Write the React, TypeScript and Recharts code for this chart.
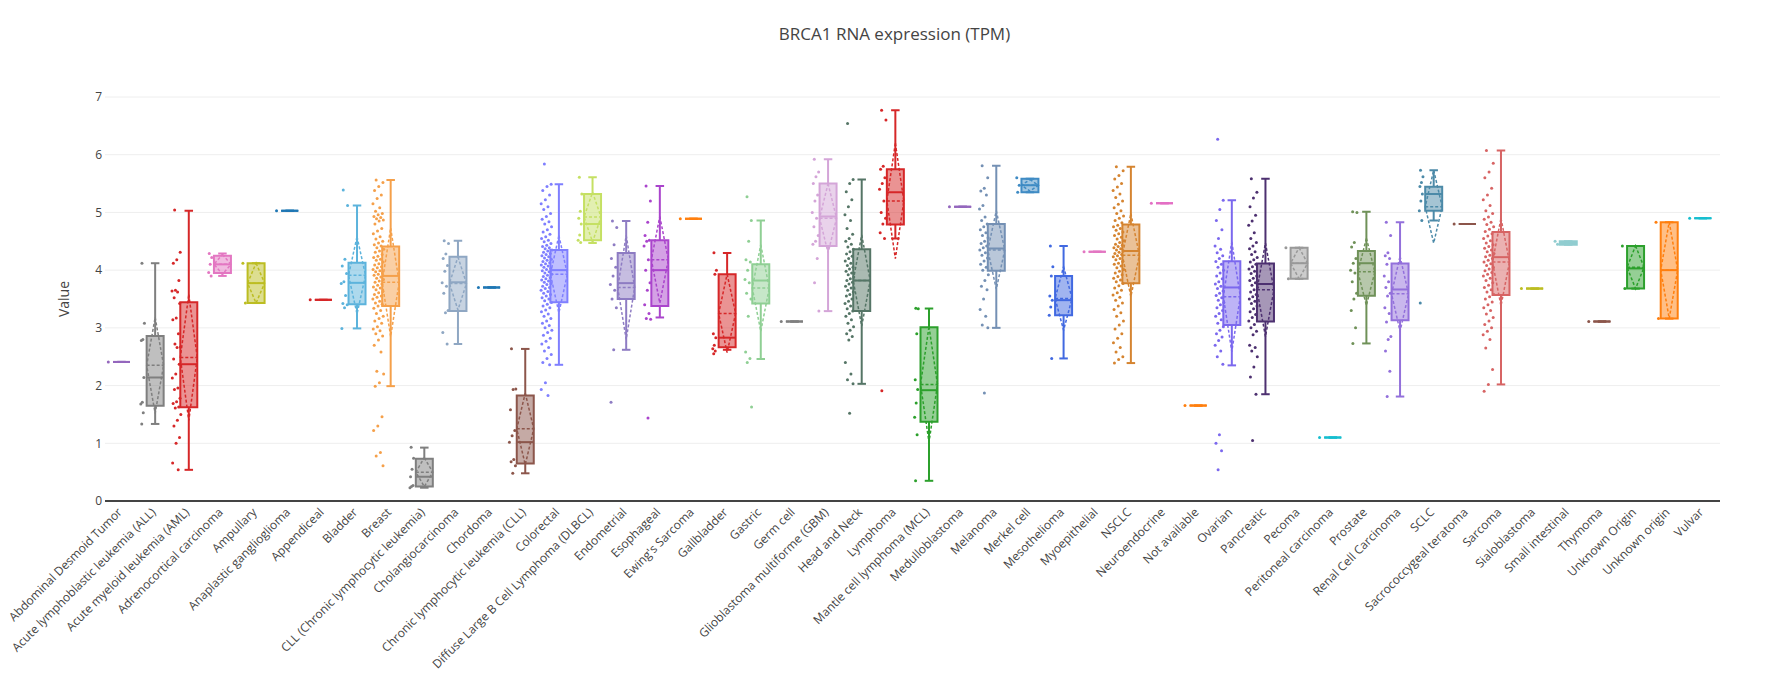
import React from 'react';
import { ComposedChart, Bar, Scatter, XAxis, YAxis, CartesianGrid, Label } from 'recharts';

const categories = [
  'Abdominal Desmoid Tumor', 'Acute lymphoblastic leukemia (ALL)', 'Acute myeloid leukemia (AML)',
  'Adrenocortical carcinoma', 'Ampullary', 'Anaplastic ganglioglioma', 'Appendiceal', 'Bladder', 'Breast',
  'CLL (Chronic lymphocytic leukemia)', 'Cholangiocarcinoma', 'Chordoma', 'Chronic lymphocytic leukemia (CLL)',
  'Colorectal', 'Diffuse Large B Cell Lymphoma (DLBCL)', 'Endometrial', 'Esophageal', "Ewing's Sarcoma",
  'Gallbladder', 'Gastric', 'Germ cell', 'Glioblastoma multiforme (GBM)', 'Head and Neck', 'Lymphoma',
  'Mantle cell lymphoma (MCL)', 'Medulloblastoma', 'Melanoma', 'Merkel cell', 'Mesothelioma', 'Myoepithelial',
  'NSCLC', 'Neuroendocrine', 'Not available', 'Ovarian', 'Pancreatic', 'Pecoma', 'Peritoneal carcinoma',
  'Prostate', 'Renal Cell Carcinoma', 'SCLC', 'Sacrococcygeal teratoma', 'Sarcoma', 'Sialoblastoma',
  'Small intestinal', 'Thymoma', 'Unknown Origin', 'Unknown origin', 'Vulvar',
];

// box statistics, one entry per category
const whiskerLow = [2.41, 1.335, 0.54, 3.9, 3.43, 5.03, 3.485, 2.99, 1.99, 0.23, 2.72, 3.7, 0.48, 2.36, 4.47, 2.62, 3.18, 4.89, 2.62, 2.46, 3.11, 3.29, 2.03, 4.55, 0.35, 5.1, 3.0, 5.35, 2.47, 4.32, 2.39, 5.16, 1.653, 2.35, 1.85, 3.85, 1.1, 2.73, 1.81, 4.86, 4.8, 2.02, 3.68, 4.44, 3.11, 3.68, 3.16, 4.9];
const quart1 = [2.41, 1.65, 1.625, 3.95, 3.43, 5.03, 3.485, 3.41, 3.38, 0.25, 3.29, 3.7, 0.65, 3.445, 4.52, 3.5, 3.38, 4.89, 2.665, 3.42, 3.11, 4.42, 3.29, 4.79, 1.375, 5.1, 3.99, 5.35, 3.22, 4.32, 3.775, 5.16, 1.653, 3.05, 3.11, 3.85, 1.1, 3.555, 3.13, 5.03, 4.8, 3.57, 3.68, 4.44, 3.11, 3.68, 3.16, 4.9];
const medians = [2.41, 2.14, 2.37, 4.1, 3.775, 5.03, 3.485, 3.78, 3.9, 0.42, 3.79, 3.7, 1.02, 4.0, 4.8, 3.775, 4.0, 4.89, 2.83, 3.82, 3.11, 4.93, 3.82, 5.35, 1.92, 5.1, 4.375, 5.47, 3.48, 4.32, 4.33, 5.16, 1.653, 3.7, 3.76, 4.12, 1.1, 4.12, 3.665, 5.32, 4.8, 4.225, 3.68, 4.47, 3.11, 4.03, 4.0, 4.9];
const quart3 = [2.41, 2.86, 3.445, 4.25, 4.12, 5.03, 3.485, 4.13, 4.41, 0.734, 4.23, 3.7, 1.83, 4.35, 5.32, 4.295, 4.52, 4.89, 3.93, 4.1, 3.11, 5.5, 4.36, 5.75, 3.01, 5.1, 4.8, 5.585, 3.9, 4.32, 4.79, 5.16, 1.653, 4.155, 4.115, 4.39, 1.1, 4.33, 4.115, 5.445, 4.8, 4.66, 3.68, 4.5, 3.11, 4.42, 4.83, 4.9];
const whiskerHigh = [2.41, 4.12, 5.03, 4.29, 4.12, 5.03, 3.485, 5.12, 5.56, 0.925, 4.51, 3.7, 2.635, 5.49, 5.61, 4.85, 5.46, 4.89, 4.295, 4.86, 3.11, 5.92, 5.57, 6.77, 3.335, 5.1, 5.81, 5.585, 4.42, 4.32, 5.79, 5.16, 1.653, 5.21, 5.585, 4.39, 1.1, 5.01, 4.83, 5.73, 4.8, 6.075, 3.68, 4.5, 3.11, 4.42, 4.83, 4.9];
const means = [2.41, 2.35, 2.485, 4.1, 3.775, 5.03, 3.485, 3.91, 3.79, 0.5, 3.77, 3.7, 1.25, 3.93, 4.92, 3.7, 4.18, 4.89, 3.25, 3.69, 3.11, 4.9, 3.82, 5.2, 2.02, 5.1, 4.35, 5.47, 3.51, 4.32, 4.26, 5.16, 1.653, 3.54, 3.66, 4.12, 1.1, 3.97, 3.59, 5.1, 4.8, 4.14, 3.68, 4.47, 3.11, 4.05, 4.0, 4.9];
const stdDevs = [0, 0.83, 1.09, 0.17, 0.345, 0, 0, 0.67, 0.94, 0.25, 0.46, 0, 0.62, 0.67, 0.43, 0.9, 0.75, 0, 0.68, 0.75, 0, 0.6, 0.79, 1.0, 1.0, 0, 0.68, 0.1, 0.55, 0, 0.72, 0, 0, 0.95, 0.81, 0.27, 0, 0.58, 0.65, 0.63, 0, 0.76, 0, 0.03, 0, 0.37, 0.835, 0];

// individual samples shown beside each box
const samples: number[][] = [
  [2.41],
  [4.12, 3.08, 2.8, 2.78, 2.14, 1.71, 1.68, 1.53, 1.335],
  [5.04, 4.31, 4.18, 4.12, 3.82, 3.65, 3.64, 3.62, 3.52, 3.42, 3.17, 3.14, 2.9, 2.72, 2.67, 2.66, 2.46, 2.37, 2.2, 2.13, 1.96, 1.93, 1.78, 1.72, 1.69, 1.63, 1.61, 1.5, 1.4, 1.3, 1.1, 1.0, 0.66, 0.54],
  [4.29, 4.22, 4.1, 3.96, 3.9],
  [4.12, 3.43],
  [5.03],
  [3.485],
  [5.39, 5.12, 4.19, 4.07, 3.94, 3.8, 3.77, 3.56, 3.42, 3.4, 3.35, 2.99],
  [5.56, 5.52, 5.45, 5.38, 5.3, 5.24, 5.15, 5.08, 5.02, 4.98, 4.96, 4.93, 4.91, 4.89, 4.87, 4.85, 4.8, 4.72, 4.68, 4.63, 4.58, 4.54, 4.5, 4.47, 4.44, 4.42, 4.39, 4.36, 4.33, 4.31, 4.27, 4.24, 4.22, 4.19, 4.17, 4.14, 4.11, 4.09, 4.06, 4.04, 4.01, 3.99, 3.97, 3.95, 3.93, 3.91, 3.88, 3.86, 3.84, 3.81, 3.79, 3.76, 3.74, 3.71, 3.69, 3.66, 3.63, 3.61, 3.58, 3.55, 3.53, 3.5, 3.46, 3.43, 3.41, 3.38, 3.34, 3.3, 3.25, 3.2, 3.16, 3.12, 3.08, 3.02, 2.98, 2.95, 2.9, 2.86, 2.79, 2.7, 2.58, 2.25, 2.2, 2.05, 1.99, 1.46, 1.3, 1.22, 0.84, 0.78, 0.61],
  [0.93, 0.74, 0.55, 0.42, 0.27, 0.25, 0.23],
  [4.51, 4.46, 4.28, 4.2, 4.08, 3.98, 3.78, 3.72, 3.6, 3.3, 3.26, 2.92, 2.72],
  [3.7],
  [2.64, 1.94, 1.93, 1.58, 1.22, 1.13, 1.02, 0.72, 0.68, 0.61, 0.48],
  [5.84, 5.49, 5.45, 5.38, 5.3, 5.22, 5.15, 5.1, 5.05, 4.98, 4.93, 4.88, 4.84, 4.8, 4.75, 4.7, 4.66, 4.62, 4.58, 4.55, 4.52, 4.49, 4.46, 4.43, 4.41, 4.39, 4.37, 4.35, 4.33, 4.31, 4.29, 4.27, 4.25, 4.23, 4.21, 4.19, 4.17, 4.15, 4.13, 4.11, 4.09, 4.07, 4.05, 4.03, 4.01, 3.99, 3.97, 3.95, 3.93, 3.91, 3.89, 3.87, 3.85, 3.83, 3.81, 3.79, 3.77, 3.75, 3.72, 3.7, 3.68, 3.65, 3.63, 3.6, 3.58, 3.55, 3.52, 3.5, 3.47, 3.44, 3.41, 3.38, 3.35, 3.31, 3.28, 3.24, 3.2, 3.16, 3.12, 3.08, 3.04, 3.0, 2.96, 2.92, 2.87, 2.82, 2.77, 2.72, 2.66, 2.6, 2.54, 2.47, 2.4, 2.36, 2.05, 1.93, 1.83],
  [5.61, 5.32, 5.02, 4.9, 4.8, 4.61, 4.52, 4.48],
  [4.85, 4.74, 4.44, 4.2, 4.05, 3.9, 3.75, 3.65, 3.5, 3.35, 2.62, 1.71],
  [5.46, 5.2, 4.83, 4.6, 4.52, 4.5, 4.42, 4.18, 4.0, 3.78, 3.65, 3.4, 3.25, 3.16, 3.15, 1.44],
  [4.89],
  [4.3, 4.0, 3.93, 2.9, 2.83, 2.7, 2.64, 2.6, 2.55],
  [5.27, 4.86, 4.5, 4.18, 4.14, 4.0, 3.84, 3.78, 3.6, 3.5, 3.2, 2.58, 2.47, 2.4, 1.63],
  [3.11],
  [5.92, 5.7, 5.62, 5.5, 5.3, 5.2, 5.0, 4.9, 4.75, 4.6, 4.5, 4.45, 4.2, 3.78, 3.29],
  [6.54, 5.57, 5.5, 5.36, 5.22, 5.1, 4.96, 4.86, 4.72, 4.62, 4.55, 4.5, 4.45, 4.4, 4.36, 4.32, 4.28, 4.24, 4.2, 4.16, 4.12, 4.08, 4.05, 4.02, 3.98, 3.95, 3.92, 3.88, 3.85, 3.82, 3.79, 3.76, 3.72, 3.69, 3.65, 3.62, 3.58, 3.55, 3.5, 3.46, 3.42, 3.38, 3.33, 3.29, 3.25, 3.2, 3.14, 3.08, 3.02, 2.96, 2.9, 2.85, 2.79, 2.4, 2.2, 2.1, 2.03, 1.52],
  [6.77, 6.6, 5.8, 5.75, 5.6, 5.5, 5.4, 5.2, 5.0, 4.9, 4.8, 4.65, 4.55, 1.91],
  [3.34, 3.33, 2.9, 2.1, 1.93, 1.7, 1.45, 1.15, 0.35],
  [5.1],
  [5.81, 5.6, 5.42, 5.37, 5.3, 5.12, 5.06, 4.92, 4.86, 4.8, 4.75, 4.7, 4.65, 4.6, 4.56, 4.5, 4.46, 4.42, 4.39, 4.35, 4.3, 4.26, 4.21, 4.16, 4.1, 4.05, 4.0, 3.92, 3.82, 3.72, 3.66, 3.5, 3.32, 3.2, 3.05, 3.0, 1.87],
  [5.6, 5.47, 5.35],
  [4.42, 4.06, 3.9, 3.55, 3.48, 3.36, 3.22, 2.47],
  [4.32],
  [5.79, 5.72, 5.64, 5.58, 5.5, 5.44, 5.38, 5.32, 5.26, 5.2, 5.14, 5.08, 5.03, 4.98, 4.94, 4.9, 4.86, 4.82, 4.78, 4.75, 4.72, 4.69, 4.66, 4.63, 4.6, 4.57, 4.54, 4.51, 4.48, 4.45, 4.43, 4.41, 4.39, 4.37, 4.35, 4.33, 4.31, 4.29, 4.27, 4.25, 4.23, 4.2, 4.18, 4.15, 4.12, 4.1, 4.07, 4.04, 4.01, 3.98, 3.95, 3.92, 3.89, 3.86, 3.83, 3.8, 3.77, 3.73, 3.69, 3.65, 3.61, 3.57, 3.53, 3.48, 3.43, 3.38, 3.32, 3.26, 3.2, 3.12, 3.05, 2.98, 2.9, 2.82, 2.74, 2.66, 2.58, 2.5, 2.45, 2.39],
  [5.16],
  [1.653],
  [6.27, 5.21, 5.05, 4.86, 4.7, 4.55, 4.42, 4.36, 4.3, 4.25, 4.2, 4.15, 4.1, 4.05, 4.0, 3.95, 3.9, 3.85, 3.8, 3.76, 3.72, 3.68, 3.64, 3.6, 3.56, 3.52, 3.48, 3.44, 3.4, 3.35, 3.3, 3.25, 3.2, 3.14, 3.08, 3.02, 2.96, 2.9, 2.84, 2.78, 2.7, 2.6, 2.5, 2.37, 1.15, 1.0, 0.87, 0.54],
  [5.585, 5.35, 5.25, 5.1, 4.95, 4.85, 4.78, 4.65, 4.55, 4.48, 4.42, 4.37, 4.32, 4.27, 4.22, 4.18, 4.14, 4.1, 4.06, 4.02, 3.98, 3.94, 3.9, 3.86, 3.82, 3.78, 3.74, 3.7, 3.66, 3.62, 3.58, 3.54, 3.5, 3.46, 3.42, 3.38, 3.33, 3.28, 3.23, 3.18, 3.12, 3.06, 3.0, 2.94, 2.88, 2.7, 2.66, 2.6, 2.5, 2.32, 2.15, 1.85, 1.05],
  [4.39, 3.85],
  [1.1],
  [5.01, 5.0, 4.48, 4.4, 4.2, 4.12, 4.0, 3.95, 3.8, 3.6, 3.5, 3.3, 3.0, 2.73],
  [4.83, 4.6, 4.3, 4.25, 4.2, 4.1, 3.9, 3.8, 3.7, 3.6, 3.55, 3.35, 3.25, 3.1, 2.85, 2.8, 2.6, 2.25, 1.81],
  [5.73, 5.62, 5.52, 5.45, 5.32, 5.2, 5.03, 4.86, 3.43],
  [4.8],
  [6.075, 5.85, 5.7, 5.6, 5.42, 5.3, 5.22, 5.12, 5.03, 4.98, 4.92, 4.88, 4.83, 4.79, 4.75, 4.71, 4.67, 4.63, 4.59, 4.55, 4.51, 4.47, 4.44, 4.41, 4.38, 4.35, 4.32, 4.29, 4.26, 4.23, 4.2, 4.17, 4.14, 4.11, 4.08, 4.05, 4.02, 3.99, 3.96, 3.93, 3.9, 3.86, 3.82, 3.78, 3.74, 3.7, 3.66, 3.62, 3.58, 3.54, 3.5, 3.45, 3.4, 3.35, 3.3, 3.24, 3.18, 3.12, 3.06, 3.0, 2.94, 2.88, 2.8, 2.65, 2.28, 2.02, 1.9],
  [3.68],
  [4.5, 4.45],
  [3.11],
  [4.42, 3.68],
  [4.83, 3.16],
  [4.9],
];

const yTicks = [0, 1, 2, 3, 4, 5, 6, 7];

const colors = [
  '#9467bd', '#7f7f7f', '#d62728', '#e377c2', '#bcbd22', '#1f77b4', '#d62728', '#5cb3dc', '#f5a04a',
  '#7f7f7f', '#8fa7c3', '#1f77b4', '#8c564b', '#7f7fff', '#c5e063', '#8e7cc3', '#aa44cc', '#ff7f0e',
  '#d62728', '#8fcf94', '#7f7f7f', '#d4a5d8', '#557566', '#d62728', '#2ca02c', '#9467bd', '#7490b4',
  '#3f8bc4', '#4169e1', '#e377c2', '#d58430', '#e36fc4', '#ff7f0e', '#7b68ee', '#4d3070', '#999999',
  '#17becf', '#6f9158', '#9370db', '#4c8aa8', '#8c564b', '#d76464', '#bcbd22', '#91cdd0', '#8c564b',
  '#2ca02c', '#ff7f0e', '#17becf',
];

const FONT = '"Open Sans", sans-serif';

const boxRows = categories.map((name, i) => ({
  name,
  idx: i,
  lo: whiskerLow[i],
  q1: quart1[i],
  med: medians[i],
  q3: quart3[i],
  hi: whiskerHigh[i],
  mean: means[i],
  sd: stdDevs[i],
}));

const pointRows = samples.flatMap((vals, c) => vals.map((v, k) => ({ c, v, k, n: vals.length })));

function BoxShape(props: any) {
  const { x, y, width, height, payload } = props;
  const k = height / payload.hi;
  const base = y + height;
  const py = (v: number) => base - v * k;
  const cx = x + width / 2;
  const hw = width / 2;
  const col = colors[payload.idx];
  const top = py(payload.q3);
  const bot = py(payload.q1);
  const my = py(payload.mean);
  return (
    <g>
      <line x1={cx} x2={cx} y1={top} y2={py(payload.hi)} stroke={col} strokeWidth={2} />
      <line x1={cx} x2={cx} y1={bot} y2={py(payload.lo)} stroke={col} strokeWidth={2} />
      <line x1={cx - hw / 2} x2={cx + hw / 2} y1={py(payload.hi)} y2={py(payload.hi)} stroke={col} strokeWidth={2} />
      <line x1={cx - hw / 2} x2={cx + hw / 2} y1={py(payload.lo)} y2={py(payload.lo)} stroke={col} strokeWidth={2} />
      <path
        d={`M${cx - hw},${top}H${cx + hw}V${bot}H${cx - hw}Z`}
        fill={col}
        fillOpacity={0.5}
        stroke={col}
        strokeWidth={2}
      />
      <line x1={cx - hw} x2={cx + hw} y1={py(payload.med)} y2={py(payload.med)} stroke={col} strokeWidth={2} />
      <line x1={cx - hw} x2={cx + hw} y1={my} y2={my} stroke={col} strokeWidth={1.5} strokeDasharray="3 2" />
      {payload.sd > 0 && (
        <path
          d={`M${cx},${py(payload.mean + payload.sd)}L${cx + hw},${my}L${cx},${py(payload.mean - payload.sd)}L${cx - hw},${my}Z`}
          fill="none"
          stroke={col}
          strokeWidth={1.5}
          strokeDasharray="3 2"
        />
      )}
    </g>
  );
}

function SampleDot(props: any) {
  const { cx, cy, payload } = props;
  if (cx == null || cy == null) return null;
  const amp = payload.n >= 60 ? 5.5 : payload.n >= 30 ? 4.5 : payload.n >= 10 ? 3.5 : 2;
  const f = (payload.k * 0.618034 + 0.31) % 1;
  const dx = -12.75 + (f - 0.5) * 2 * amp;
  return <circle cx={cx + dx} cy={cy} r={1.5} fill={colors[payload.c]} />;
}

function CategoryTick(props: any) {
  const { x, y, payload } = props;
  const ax = x + 1;
  const ay = y + 12;
  return (
    <text
      x={ax}
      y={ay}
      transform={`rotate(-45 ${ax} ${ay})`}
      textAnchor="end"
      fontSize={12}
      fill="#444"
      fontFamily={FONT}
    >
      {payload.value}
    </text>
  );
}

export default function App() {
  return (
    <div style={{ position: 'relative', width: 1789, height: 684, background: '#fff' }}>
      <style>{'body{margin:0}'}</style>
      <div
        style={{
          position: 'absolute',
          top: 24,
          left: 0,
          width: 1789,
          textAlign: 'center',
          fontFamily: FONT,
          fontSize: 17,
          lineHeight: '20px',
          color: '#444',
        }}
      >
        BRCA1 RNA expression (TPM)
      </div>
      <ComposedChart
        width={1789}
        height={684}
        data={boxRows}
        margin={{ top: 97, right: 69, bottom: 0, left: 0 }}
      >
        <CartesianGrid stroke="#eee" vertical={false} />
        <XAxis
          dataKey="name"
          type="category"
          interval={0}
          height={183}
          tickLine={false}
          tickSize={0}
          tickMargin={0}
          axisLine={{ stroke: '#444', strokeWidth: 2 }}
          tick={<CategoryTick />}
        />
        <XAxis xAxisId="num" dataKey="c" type="number" domain={[-0.5, 47.5]} hide allowDataOverflow />
        <YAxis
          type="number"
          domain={[0, 7]}
          ticks={yTicks}
          width={105}
          axisLine={false}
          tickLine={false}
          tickSize={3}
          tickMargin={0}
          tick={{ fill: '#444', fontSize: 12, fontFamily: FONT }}
          allowDataOverflow
        >
          <Label
            content={(p: any) => (
              <text
                transform={`translate(${(p.viewBox?.x ?? 0) + 63},${(p.viewBox?.y ?? 97) + (p.viewBox?.height ?? 404) / 2}) rotate(-90)`}
                textAnchor="middle"
                dominantBaseline="central"
                fontSize={14}
                fill="#444"
                fontFamily={FONT}
              >
                Value
              </text>
            )}
          />
        </YAxis>
        <Bar dataKey="hi" barSize={17} shape={<BoxShape />} isAnimationActive={false} />
        <Scatter
          xAxisId="num"
          data={pointRows}
          dataKey="v"
          shape={<SampleDot />}
          isAnimationActive={false}
        />
      </ComposedChart>
    </div>
  );
}
